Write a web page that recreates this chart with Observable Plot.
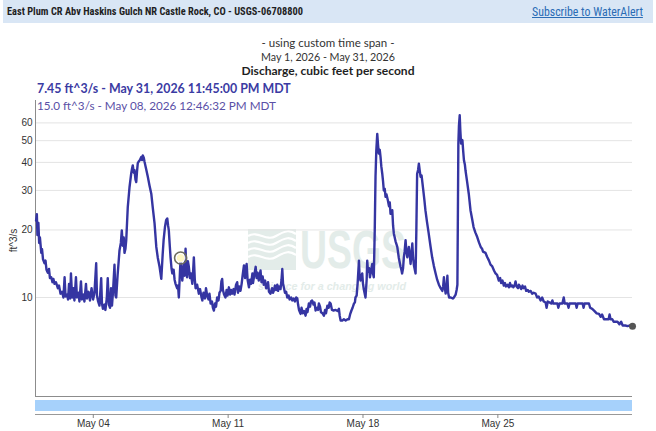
<!DOCTYPE html>
<html><head><meta charset="utf-8">
<script src="https://cdn.jsdelivr.net/npm/d3@7"></script>
<script src="https://cdn.jsdelivr.net/npm/@observablehq/plot@0.6"></script>
<style>
html,body{margin:0;padding:0;background:#fff;}
#wrap{position:relative;width:656px;height:431px;overflow:hidden;background:#fff;font-family:Lato,"Open Sans",sans-serif;}
.t{position:absolute;white-space:nowrap;line-height:1.25;z-index:3;}
#hdr{position:absolute;left:3px;top:0;width:650px;height:23px;background:#d9e6f5;}
#wm{position:absolute;left:0;top:0;z-index:0;}
#main{position:absolute;left:0;top:0;z-index:1;}
#nav{position:absolute;left:0;top:398px;z-index:1;}
</style></head><body>
<div id="wrap">
  <div id="hdr"></div>
  <svg id="wm" width="656" height="431">
    <g fill="#e3ece9">
      <rect x="248" y="229" width="48" height="41"></rect>
      <text x="300" y="268" font-family="Liberation Sans, Arial" font-weight="bold" font-size="54" textLength="106" lengthAdjust="spacingAndGlyphs">USGS</text>
      <text x="258" y="290" font-family="Liberation Sans, Arial" font-style="italic" font-weight="bold" font-size="11" textLength="148" lengthAdjust="spacingAndGlyphs">science for a changing world</text>
    </g>
    <g fill="none" stroke="#fff" stroke-width="2.2">
      <path d="M248,236 C258,230 266,242 276,236 S290,230 296,234"></path>
      <path d="M248,243 C258,237 266,249 276,243 S290,237 296,241"></path>
      <path d="M248,250 C258,244 266,256 276,250 S290,244 296,248"></path>
      <path d="M248,257 C258,251 266,263 276,257 S290,251 296,255"></path>
    </g>
  </svg>
  <div class="t" id="title" style="font-family:'Liberation Sans Narrow','Roboto Condensed',Lato,sans-serif;font-weight:700;color:#1f1f1f">East Plum CR Abv Haskins Gulch NR Castle Rock, CO - USGS-06708800</div>
  <div class="t" id="sub" style="font-family:'Liberation Sans Narrow','Roboto Condensed',Lato,sans-serif;color:#2a6cb5;text-decoration:underline">Subscribe to WaterAlert</div>
  <div class="t" id="s1" style="color:#333">- using custom time span -</div>
  <div class="t" id="s2" style="color:#333">May 1, 2026 - May 31, 2026</div>
  <div class="t" id="s3" style="font-weight:700;color:#1f1f1f">Discharge, cubic feet per second</div>
  <div class="t" id="cur" style="font-weight:700;color:#3b3ba3">7.45 ft^3/s - May 31, 2026 11:45:00 PM MDT</div>
  <div class="t" id="hov" style="color:#5a50a6">15.0 ft^3/s - May 08, 2026 12:46:32 PM MDT</div>
</div>
<script>
// ---- data (day of May with fractional time, discharge in ft^3/s) ----
const dayOfMay = [
1.03,1.07,1.10,1.15,1.19,1.23,1.30,1.34,1.39,1.47,1.52,1.57,1.64,1.70,1.75,1.82,1.88,1.93,1.99,2.06,
2.16,2.22,2.30,2.38,2.45,2.51,2.56,2.64,2.69,2.74,2.80,2.84,2.90,2.97,3.02,3.10,3.15,3.23,3.28,3.36,
3.41,3.49,3.54,3.62,3.67,3.75,3.83,3.91,3.99,4.06,4.15,4.19,4.25,4.32,4.41,4.45,4.50,4.58,4.63,4.70,
4.75,4.81,4.87,4.92,4.97,5.02,5.10,5.15,5.19,5.26,5.36,5.43,5.48,5.53,5.58,5.62,5.67,5.71,5.79,5.88,
5.97,6.01,6.05,6.10,6.14,6.19,6.23,6.27,6.31,6.37,6.42,6.49,6.53,6.57,6.62,6.66,6.74,6.83,6.92,7.01,
7.09,7.18,7.27,7.35,7.44,7.53,7.60,7.65,7.72,7.78,7.84,7.88,7.92,7.97,8.01,8.06,8.10,8.17,8.22,8.27,
8.35,8.40,8.44,8.49,8.532,8.62,8.66,8.70,8.74,8.79,8.83,8.87,8.91,8.96,9.02,9.07,9.14,9.18,9.22,9.27,
9.31,9.39,9.48,9.54,9.62,9.66,9.72,9.80,9.85,9.91,9.98,10.03,10.09,10.16,10.21,10.26,10.32,10.37,10.43,10.50,
10.55,10.61,10.65,10.69,10.73,10.79,10.86,10.92,10.97,11.04,11.10,11.15,11.21,11.28,11.33,11.41,11.47,11.51,11.57,11.64,
11.70,11.75,11.82,11.88,11.92,11.96,12.01,12.08,12.14,12.19,12.26,12.29,12.35,12.43,12.48,12.53,12.59,12.63,12.68,12.73,
12.79,12.85,12.92,12.97,13.03,13.07,13.12,13.20,13.28,13.33,13.37,13.43,13.49,13.55,13.59,13.64,13.72,13.77,13.81,13.85,
13.89,13.95,14.01,14.07,14.14,14.19,14.27,14.33,14.40,14.47,14.53,14.59,14.63,14.68,14.76,14.81,14.87,14.94,15.02,15.07,
15.12,15.19,15.25,15.30,15.36,15.43,15.48,15.54,15.62,15.67,15.71,15.77,15.82,15.90,15.97,16.03,16.08,16.15,16.22,16.27,
16.32,16.39,16.47,16.58,16.68,16.75,16.79,16.84,16.94,17.01,17.10,17.20,17.27,17.33,17.40,17.46,17.53,17.58,17.61,17.67,
17.72,17.79,17.82,17.87,17.92,17.96,18.00,18.05,18.13,18.19,18.22,18.26,18.32,18.36,18.42,18.48,18.52,18.56,18.61,18.65,
18.69,18.74,18.78,18.82,18.87,18.91,18.95,19.00,19.04,19.08,19.13,19.17,19.22,19.29,19.35,19.39,19.43,19.48,19.52,19.56,
19.60,19.69,19.78,19.86,19.95,20.00,20.03,20.08,20.12,20.16,20.21,20.25,20.30,20.34,20.38,20.43,20.47,20.51,20.56,20.60,
20.65,20.73,20.77,20.81,20.86,20.90,20.94,20.99,21.04,21.13,21.19,21.24,21.32,21.41,21.50,21.59,21.68,21.77,21.85,21.94,
22.03,22.12,22.16,22.20,22.25,22.29,22.34,22.38,22.42,22.47,22.56,22.66,22.72,22.81,22.86,22.90,22.92,22.95,22.98,23.02,
23.05,23.09,23.12,23.16,23.20,23.24,23.29,23.32,23.40,23.49,23.58,23.66,23.74,23.83,23.93,24.02,24.11,24.18,24.23,24.36,
24.44,24.54,24.62,24.70,24.80,24.88,24.96,25.05,25.12,25.17,25.24,25.31,25.37,25.42,25.50,25.57,25.63,25.69,25.76,25.81,
25.88,25.92,25.97,26.05,26.09,26.15,26.21,26.28,26.33,26.41,26.47,26.55,26.61,26.70,26.78,26.86,26.96,27.04,27.12,27.22,
27.30,27.38,27.48,27.53,27.59,27.69,27.77,27.83,27.88,27.99,28.09,28.14,28.20,28.35,28.42,28.47,28.61,28.67,28.72,29.04,
29.09,29.14,29.40,29.45,29.50,29.73,29.79,29.90,30.02,30.13,30.25,30.34,30.41,30.51,30.65,30.75,30.80,30.85,30.94,31.01,
31.11,31.21,31.31,31.40,31.48,31.62,31.73,31.83,31.9896];
const cfs = [
22,23.5,19,21.5,17.5,18.5,15.8,16.4,14.8,14.2,14.6,13.3,12.9,13.4,12.2,12.3,11.7,12.1,11.5,11.7,
11.0,11.3,10.4,10.6,10.0,12.3,10.1,10.3,9.8,11.5,9.9,12.8,10.0,11.0,9.7,12.3,10.0,10.5,9.6,11.8,
9.8,10.3,9.6,11.5,9.9,10.6,9.7,11.0,9.8,10.5,14.2,10.2,9.6,9.2,12.2,9.4,8.9,9.3,8.8,9.9,
12.2,9.3,9.0,11.0,9.2,10.5,14.0,10.2,10.0,12.5,16.2,17.5,19.9,17.0,18.5,15.8,16.5,18.0,25.3,31.0,
35.8,37.5,38.8,36.0,36.9,33.5,32.7,36.5,39.7,40.5,41.0,42.3,41.0,43.0,42.0,40.3,37.5,34.5,31.5,29.0,
25.0,21.4,16.8,15.0,13.7,12.1,15.5,18.0,20.6,22.1,22.5,21.0,19.9,17.0,15.1,13.5,12.8,13.3,12.0,11.5,
11.0,11.3,10.0,12.5,15.0,11.9,13.0,14.1,12.5,16.5,13.0,12.3,14.5,13.7,12.2,12.8,11.5,13.0,15.1,12.0,
11.0,11.4,10.4,10.9,10.0,9.7,10.5,9.9,11.0,10.2,9.8,10.4,9.4,9.6,9.0,8.75,9.4,9.1,10.0,9.7,
10.5,10.7,11.8,12.1,10.8,10.3,10.0,10.8,10.2,11.1,10.3,10.8,10.4,10.9,10.3,11.4,11.7,10.5,11.2,10.7,
11.5,12.5,13.9,12.2,13.5,14.1,12.0,11.1,12.0,11.5,12.8,11.6,12.5,13.7,12.2,12.9,11.9,12.4,13.2,11.7,
12.4,11.4,11.9,11.0,11.1,11.7,10.6,10.4,11.0,10.5,10.7,11.3,10.8,11.4,10.7,11.2,10.9,12.0,13.4,11.5,
11.1,10.5,10.6,10.0,10.2,9.8,10.0,9.7,9.9,9.6,10.0,9.9,9.3,8.8,8.45,9.0,8.5,8.7,8.3,8.9,
8.6,9.4,9.1,9.6,9.7,9.3,9.5,8.75,9.0,8.8,9.4,9.1,8.6,8.5,8.3,8.8,8.5,9.2,9.0,9.5,
9.4,8.8,8.75,8.8,8.7,8.9,8.3,7.9,7.9,8.0,7.9,8.0,8.0,8.4,8.75,9.0,9.4,9.5,10.0,10.2,
11.5,14.6,12.5,11.9,12.5,12.8,11.5,10.8,10.0,12.0,14.6,13.0,13.5,12.3,13.2,14.1,12.8,12.3,20.0,34.5,
45.0,53.6,48.0,43.8,45.5,42.3,38.5,35.6,33.0,30.0,30.5,28.1,28.8,27.1,25.5,26.5,23.6,24.0,24.5,21.0,
19.3,17.8,16.8,15.0,13.7,13.2,12.8,13.5,15.1,16.0,18.0,16.2,15.1,15.8,16.8,15.5,14.1,15.5,17.4,15.0,
13.8,12.8,20.0,35.6,37.0,39.5,37.0,34.5,35.0,30.0,27.0,24.5,21.8,19.3,17.0,15.1,13.8,12.8,12.0,11.4,
11.0,10.7,11.2,12.3,11.0,10.4,11.0,12.5,10.5,10.0,10.0,9.9,10.0,10.3,10.8,11.4,20.0,48.5,58.0,64.9,
56.0,48.5,49.0,50.3,45.0,40.9,39.0,36.9,33.0,29.0,24.5,22.5,20.6,19.5,18.6,17.6,16.8,16.5,16.0,15.8,
15.2,14.6,14.0,13.8,13.2,12.8,12.6,11.9,12.2,11.6,11.9,11.3,11.6,11.2,11.4,11.1,11.6,11.2,11.3,11.1,
11.4,11.8,11.2,11.0,11.4,11.2,10.9,11.3,11.0,11.2,10.7,10.8,10.6,10.7,10.4,10.5,10.4,10.0,10.1,9.7,
10.0,9.6,9.5,9.0,9.6,9.5,9.4,9.7,9.4,9.4,9.4,9.0,9.4,9.4,10.0,9.4,9.4,9.0,9.4,9.4,
9.0,9.4,9.4,9.0,9.4,9.4,9.0,8.9,8.7,8.5,8.45,8.2,8.4,8.0,8.0,8.0,8.4,8.0,8.0,7.8,
7.8,7.8,7.6,7.8,7.5,7.5,7.45,7.5,7.45];
const yTicks = [10, 20, 30, 40, 50, 60];
const xTickDays = [4, 11, 18, 25];
const hoverDay = 8.532, hoverValue = 15.0;

// ---- build ----
const t0 = Date.UTC(2026, 4, 1);
const toDate = d => new Date(t0 + (d - 1) * 864e5);
const series = dayOfMay.map((d, i) => ({date: toDate(d), cfs: cfs[i]}));
const last = [series[series.length - 1]];
const hover = [{date: toDate(hoverDay), cfs: hoverValue}];
const xDomain = [toDate(1), toDate(31 + 23.75 / 24)];
const yDomain = [3.62, 75.5];
const xTicks = xTickDays.map(toDate);
const base = {background: "transparent", fontFamily: "'Liberation Sans', Arial, sans-serif", fontSize: "10px", color: "#333", overflow: "visible"};

const main = Plot.plot({
  width: 656, height: 400, marginTop: 100, marginBottom: 4, marginLeft: 35, marginRight: 24,
  style: base,
  x: {type: "utc", domain: xDomain, axis: null},
  y: {type: "log", domain: yDomain, axis: null},
  marks: [
    Plot.ruleY(yTicks, {stroke: "#e4e4e4"}),
    Plot.ruleX([xDomain[0]], {stroke: "#8c8c8c"}),
    Plot.ruleY([yDomain[0]], {stroke: "#8c8c8c"}),
    Plot.axisY(yTicks, {tickSize: 0, tickPadding: 3, tickFormat: d => String(d), fontSize: 10, fill: "#333", label: null}),
    Plot.text(["ft^3/s"], {text: d => d, frameAnchor: "left", textAnchor: "middle", rotate: -90, dx: -22, dy: -8, fontSize: 10, fill: "#333"}),
    Plot.line(series, {x: "date", y: "cfs", stroke: "#3535a2", strokeWidth: 2.4, strokeLinejoin: "round"}),
    Plot.dot(hover, {x: "date", y: "cfs", r: 6, fill: "none", stroke: "#6e6e5e", strokeWidth: 1.6}),
    Plot.dot(hover, {x: "date", y: "cfs", r: 4.3, fill: "#fff8c4", stroke: "#fff", strokeWidth: 1}),
    Plot.dot(last, {x: "date", y: "cfs", r: 3.5, fill: "#555"})
  ]
});
main.id = "main";

const nav = Plot.plot({
  width: 656, height: 33, marginTop: 2, marginBottom: 17, marginLeft: 35, marginRight: 24,
  style: base,
  x: {type: "utc", domain: xDomain, axis: null},
  y: {domain: [0, 1], axis: null},
  marks: [
    Plot.rect([0], {x1: () => xDomain[0], x2: () => xDomain[1], y1: () => 0, y2: () => 1, insetBottom: 3, fill: "#a6d1fb"}),
    Plot.ruleY([0], {stroke: "#999"}),
    Plot.axisX(xTicks, {tickSize: 4, tickPadding: 1, tickFormat: d3.utcFormat("%b %d"), fontSize: 10, fill: "#333", stroke: "#888", label: null})
  ]
});
nav.id = "nav";

const wrap = document.getElementById("wrap");
wrap.appendChild(main);
wrap.appendChild(nav);

function place(id, o) {
  const el = document.getElementById(id);
  el.style.fontSize = "12px";
  let r = el.getBoundingClientRect();
  el.style.fontSize = (12 * o.w / r.width).toFixed(2) + "px";
  r = el.getBoundingClientRect();
  el.style.top = (o.cy - r.height / 2) + "px";
  el.style.left = (o.left != null ? o.left : o.center - r.width / 2) + "px";
}
place("title", {left: 7, cy: 12, w: 296});
place("sub", {left: 532, cy: 12, w: 111});
place("s1", {center: 328, cy: 43, w: 133});
place("s2", {center: 328, cy: 57, w: 134});
place("s3", {center: 328, cy: 71, w: 173});
place("cur", {left: 37, cy: 89, w: 254});
place("hov", {left: 37, cy: 105, w: 239});
</script>
</body></html>
